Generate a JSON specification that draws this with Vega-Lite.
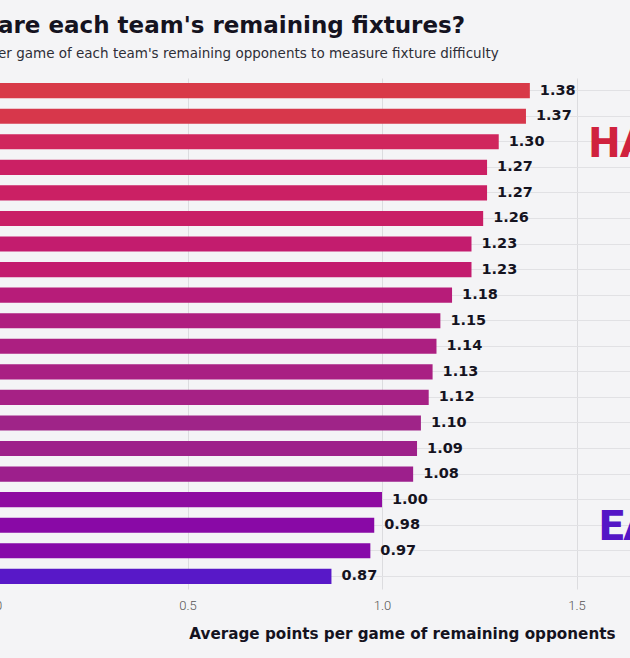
{
  "$schema": "https://vega.github.io/schema/vega-lite/v6.json",
  "width": 638,
  "height": 511,
  "autosize": "none",
  "padding": {"left": -7, "top": 78, "right": 0, "bottom": 69},
  "background": "#f4f4f6",
  "title": {
    "text": "are each team's remaining fixtures?",
    "subtitle": "er game of each team's remaining opponents to measure fixture difficulty",
    "anchor": "start",
    "frame": "group",
    "dx": 5,
    "offset": 18,
    "font": "DejaVu Sans",
    "fontSize": 23,
    "fontWeight": 700,
    "color": "#15131f",
    "subtitleFont": "DejaVu Sans",
    "subtitleFontSize": 13.5,
    "subtitleColor": "#2e2e36",
    "subtitlePadding": 9
  },
  "config": {"view": {"stroke": null}},
  "data": {
    "values": [
      {"team": "T01", "value": 1.38},
      {"team": "T02", "value": 1.37},
      {"team": "T03", "value": 1.30},
      {"team": "T04", "value": 1.27},
      {"team": "T05", "value": 1.27},
      {"team": "T06", "value": 1.26},
      {"team": "T07", "value": 1.23},
      {"team": "T08", "value": 1.23},
      {"team": "T09", "value": 1.18},
      {"team": "T10", "value": 1.15},
      {"team": "T11", "value": 1.14},
      {"team": "T12", "value": 1.13},
      {"team": "T13", "value": 1.12},
      {"team": "T14", "value": 1.10},
      {"team": "T15", "value": 1.09},
      {"team": "T16", "value": 1.08},
      {"team": "T17", "value": 1.00},
      {"team": "T18", "value": 0.98},
      {"team": "T19", "value": 0.97},
      {"team": "T20", "value": 0.87}
    ]
  },
  "encoding": {
    "y": {
      "field": "team",
      "type": "nominal",
      "sort": null,
      "scale": {"paddingInner": 0.41, "paddingOuter": 0.2},
      "axis": {
        "labels": false,
        "ticks": false,
        "domain": false,
        "title": null,
        "grid": true,
        "bandPosition": 0.5,
        "gridColor": "#e1e1e4",
        "gridWidth": 1
      }
    },
    "x": {
      "field": "value",
      "type": "quantitative",
      "scale": {"domain": [0, 1.64], "nice": false, "zero": true},
      "axis": {
        "values": [0, 0.5, 1, 1.5],
        "format": ".1f",
        "labelFlush": false,
        "grid": true,
        "gridColor": "#dcdcdf",
        "domain": false,
        "ticks": false,
        "labelFont": "Roboto",
        "labelFontWeight": 300,
        "labelFontSize": 13,
        "labelColor": "#555",
        "labelPadding": 10,
        "title": "Average points per game of remaining opponents",
        "titleFont": "DejaVu Sans",
        "titleFontWeight": 700,
        "titleFontSize": 15.2,
        "titleColor": "#15131f",
        "titleAnchor": "end",
        "titleAlign": "right",
        "titleX": 622,
        "titlePadding": 14
      }
    }
  },
  "layer": [
    {
      "mark": {"type": "bar"},
      "encoding": {
        "color": {
          "field": "value",
          "type": "quantitative",
          "scale": {"domain": [0.87, 1.1, 1.38], "range": ["#5818c8", "#9f2488", "#d83a48"]},
          "legend": null
        }
      }
    },
    {
      "mark": {"type": "text", "align": "left", "baseline": "middle", "dx": 10, "font": "DejaVu Sans", "fontSize": 14.5, "fontWeight": 700, "color": "#15131f"},
      "encoding": {
        "text": {"field": "value", "type": "quantitative", "format": ".2f"}
      }
    },
    {
      "data": {
        "values": [
          {"team": "T03", "value": 1.533, "label": "HARD"},
          {"team": "T18", "value": 1.559, "label": "EASY"}
        ]
      },
      "mark": {"type": "text", "align": "left", "baseline": "middle", "dy": 2, "font": "Roboto", "fontSize": 43, "fontWeight": 900},
      "encoding": {
        "text": {"field": "label", "type": "nominal"},
        "color": {
          "condition": {"test": "datum.label === 'HARD'", "value": "#d0223e"},
          "value": "#5516c6"
        }
      }
    }
  ],
  "resolve": {"scale": {"color": "independent"}}
}
